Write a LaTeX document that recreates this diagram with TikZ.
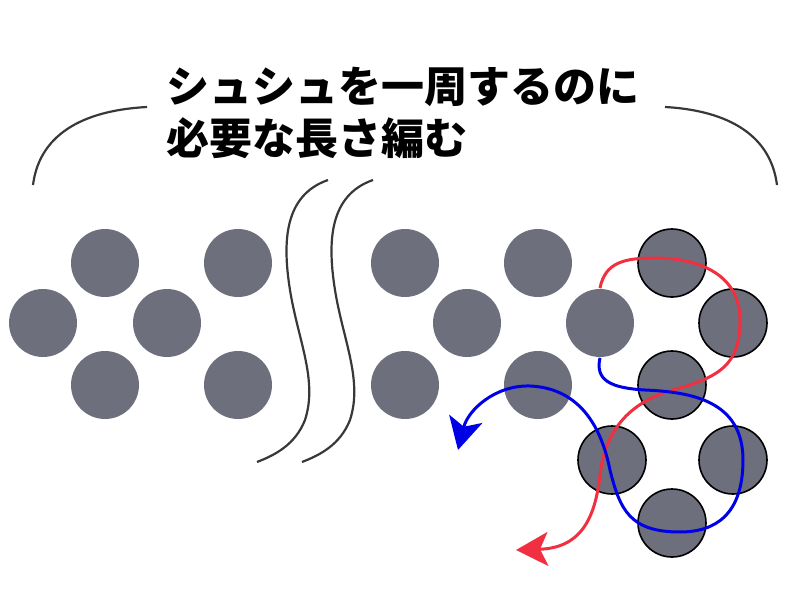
\documentclass[tikz,border=0pt]{standalone}
\usepackage{fontspec}
\newfontfamily\jpfont{Noto Sans CJK JP}
\usepackage{tikz}
\usetikzlibrary{arrows.meta}
\usetikzlibrary{calc}
\definecolor{beadgray}{RGB}{109,111,124}
\definecolor{yarnred}{RGB}{240,48,64}
\definecolor{yarnblue}{RGB}{0,0,230}
\definecolor{linegray}{RGB}{56,56,56}
\newcommand{\bnode}[2]{\node(#1)[bead] at (#2) {}}
\newcommand{\onode}[2]{\node(#1)[bead, draw=black] at (#2) {}}

\begin{document}
\begin{tikzpicture}[
        x=0.5pt, y=-0.5pt,
        bead/.style={circle,fill=beadgray,minimum size=34pt,inner sep=0pt,line width=0.8pt},
        title/.style={font=\jpfont\bfseries\fontsize{21.5pt}{26pt}\selectfont,align=left,inner sep=0pt},
        wave/.style={draw=linegray,line width=1.1pt},
        yarn/.style={line width=1.5pt,-{Stealth[length=16pt,width=17pt,inset=4pt]}}
      ]
      \useasboundingbox (0,0) rectangle (800,600);

      \node(title)[title, anchor=north west] at (166,67) {シュシュを一周するのに\\必要な長さ編む};

      % brackets
      \coordinate (bl1) at (33,185);  \coordinate (bl2) at (147,107);
      \coordinate (br1) at (665,107); \coordinate (br2) at (777,185);
      \draw[wave] (bl1) .. controls (40,130) and (90,110) .. (bl2);
      \draw[wave] (br1) .. controls (720,110) and (770,130) .. (br2);

      % left beads
      \bnode{l1}{43,323}; \bnode{l2}{105,263}; \bnode{l3}{105,385};
      \bnode{l4}{167,323}; \bnode{l5}{238,263}; \bnode{l6}{238,385};

      % break marks
      \draw[wave] (328,180) .. controls (285,195) and (282,240) .. (290,290)
                  .. controls (298,340) and (318,380) .. (305,420)
                  .. controls (295,445) and (275,455) .. (257,462);
      \draw[wave] (373,180) .. controls (330,195) and (327,240) .. (335,290)
                  .. controls (343,340) and (363,380) .. (350,420)
                  .. controls (340,445) and (320,455) .. (302,462);

      % middle beads
      \bnode{m1}{405,263}; \bnode{m2}{405,385}; \bnode{m3}{467,323};
      \bnode{m4}{538,263}; \bnode{m5}{538,385}; \bnode{m6}{600,323};

      % outlined beads
      \onode{r1}{672,263}; \onode{r2}{733,323}; \onode{r3}{672,385};
      \onode{r4}{612,460}; \onode{r5}{733,460}; \onode{r6}{672,523};

      % yarn
      \draw[yarn, yarnred] (m6.north) .. controls (605,262) and (625,258) .. (655,258)
            .. controls (700,258) and (740,275) .. (740,320)
            .. controls (740,360) and (725,375) .. (680,388)
            .. controls (630,400) and (605,430) .. (600,475)
            .. controls (595,520) and (580,548) .. (516,550);
      \draw[yarn, yarnblue] (m6.south) .. controls (595,380) and (610,388) .. (645,390)
            .. controls (690,392) and (743,400) .. (743,460)
            .. controls (743,515) and (715,532) .. (680,532)
            .. controls (630,532) and (620,510) .. (610,470)
            .. controls (600,420) and (575,388) .. (530,386)
            .. controls (495,385) and (468,410) .. (458,450);
    \end{tikzpicture}
\end{document}
